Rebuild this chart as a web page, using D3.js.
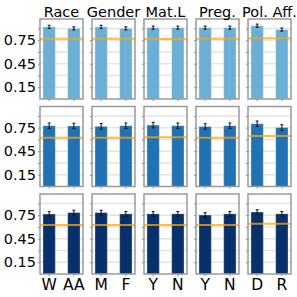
<!DOCTYPE html>
<html>
<head>
<meta charset="utf-8">
<script src="https://cdn.jsdelivr.net/npm/d3@7"></script>
<style>
  body { margin: 0; background: #fff; }
  text { font-family: "DejaVu Sans", sans-serif; }
</style>
</head>
<body>
<div id="chart"></div>
<script>
// groups (columns) and their two categories
const groups = ["Race", "Gender", "Mat.L", "Preg.", "Pol. Aff."];
const categories = [["W", "AA"], ["M", "F"], ["Y", "N"], ["Y", "N"], ["D", "R"]];

// bar values per row, per group
const valuesTop = [[0.92, 0.90], [0.92, 0.90], [0.91, 0.91], [0.91, 0.91], [0.935, 0.885]];
const valuesMid = [[0.775, 0.772], [0.767, 0.775], [0.783, 0.775], [0.765, 0.775], [0.80, 0.752]];
const valuesBot = [[0.765, 0.783], [0.783, 0.767], [0.767, 0.767], [0.752, 0.767], [0.79, 0.767]];

// error bar half widths
const errTop = [[0.02, 0.02], [0.02, 0.02], [0.02, 0.02], [0.02, 0.02], [0.02, 0.02]];
const errMid = [[0.035, 0.035], [0.035, 0.035], [0.035, 0.035], [0.035, 0.035], [0.035, 0.035]];
const errBot = [[0.03, 0.03], [0.03, 0.03], [0.03, 0.03], [0.03, 0.03], [0.03, 0.03]];

// orange reference lines
const refTop = [0.768, 0.768, 0.765, 0.768, 0.775];
const refMid = [0.622, 0.622, 0.628, 0.622, 0.645];
const refBot = [0.625, 0.625, 0.625, 0.625, 0.64];

// y ticks
const gridTicks = [0.15, 0.30, 0.45, 0.60, 0.75, 0.90];
const labelTicks = [0.15, 0.45, 0.75];

const rows = [
    { values: valuesTop, err: errTop, ref: refTop, color: "#6baed6" },
    { values: valuesMid, err: errMid, ref: refMid, color: "#2171b5" },
    { values: valuesBot, err: errBot, ref: refBot, color: "#08306b" }
];

const W = 297, H = 297;
const panelW = 43, panelH = 80;
const left0 = 40, top0 = 19;
const stepX = 52, stepY = 87.5;

const svg = d3.select("#chart").append("svg")
    .attr("width", W)
    .attr("height", H);

const y = d3.scaleLinear().domain([0, 1.02]).range([panelH, 0]);

rows.forEach(function(row, r) {
    groups.forEach(function(g, c) {
        const x = d3.scaleBand()
            .domain(categories[c])
            .range([0, panelW])
            .paddingInner(0.5)
            .paddingOuter(0.12);

        const p = svg.append("g")
            .attr("transform", "translate(" + (left0 + c * stepX) + "," + (top0 + r * stepY) + ")");

        // grid lines
        p.selectAll(".grid")
            .data(gridTicks)
            .enter().append("line")
            .attr("x1", 0).attr("x2", panelW)
            .attr("y1", d => y(d)).attr("y2", d => y(d))
            .attr("stroke", "#e3e3e3")
            .attr("stroke-width", 1.5);

        const data = categories[c].map((k, i) => ({ k: k, v: row.values[c][i], e: row.err[c][i] }));

        // bars
        p.selectAll(".bar")
            .data(data)
            .enter().append("rect")
            .attr("x", d => x(d.k))
            .attr("y", d => y(d.v))
            .attr("width", x.bandwidth())
            .attr("height", d => panelH - y(d.v))
            .attr("fill", row.color)
            .attr("stroke", "#ffffff")
            .attr("stroke-opacity", 0.3)
            .attr("stroke-width", 1);

        // orange reference line
        p.append("line")
            .attr("x1", 0).attr("x2", panelW)
            .attr("y1", y(row.ref[c])).attr("y2", y(row.ref[c]))
            .attr("stroke", "#ffa500")
            .attr("stroke-opacity", 0.75)
            .attr("stroke-width", 2);

        // error bars
        const eb = p.selectAll(".err")
            .data(data)
            .enter().append("g")
            .attr("transform", d => "translate(" + (x(d.k) + x.bandwidth() / 2) + ",0)");
        eb.append("line")
            .attr("y1", d => y(d.v - d.e)).attr("y2", d => y(d.v + d.e))
            .attr("stroke", "#111").attr("stroke-width", 1);
        eb.append("line")
            .attr("x1", -1.5).attr("x2", 1.5)
            .attr("y1", d => y(d.v - d.e)).attr("y2", d => y(d.v - d.e))
            .attr("stroke", "#111").attr("stroke-width", 1);
        eb.append("line")
            .attr("x1", -1.5).attr("x2", 1.5)
            .attr("y1", d => y(d.v + d.e)).attr("y2", d => y(d.v + d.e))
            .attr("stroke", "#111").attr("stroke-width", 1);

        // y axis ticks
        const ya = p.append("g")
            .call(d3.axisLeft(y).tickValues(gridTicks).tickSize(2).tickFormat(""));
        ya.select(".domain").remove();
        ya.selectAll("line").attr("stroke", "#888");

        // x axis ticks (labels only on bottom row)
        const xa = p.append("g")
            .attr("transform", "translate(0," + panelH + ")")
            .call(d3.axisBottom(x).tickSize(2).tickFormat(r === 2 ? null : ""));
        xa.select(".domain").remove();
        xa.selectAll("line").attr("stroke", "#888");
        xa.selectAll("text")
            .attr("y", 15.5)
            .attr("dy", 0)
            .style("font-family", "DejaVu Sans, sans-serif")
            .style("font-size", "15.5px")
            .attr("fill", "#000");

        // frame
        p.append("rect")
            .attr("width", panelW).attr("height", panelH)
            .attr("fill", "none")
            .attr("stroke", "#999")
            .attr("stroke-width", 1.5);

        // y tick labels on first column
        if (c === 0) {
            p.selectAll(".ylab")
                .data(labelTicks)
                .enter().append("text")
                .attr("x", -4)
                .attr("y", d => y(d))
                .attr("dy", "0.36em")
                .attr("text-anchor", "end")
                .style("font-size", "14.5px")
                .text(d => d.toFixed(2));
        }

        // column titles
        if (r === 0) {
            p.append("text")
                .attr("x", panelW / 2)
                .attr("y", -2.5)
                .attr("text-anchor", "middle")
                .style("font-size", "14.5px")
                .text(g);
        }
    });
});
</script>
</body>
</html>
